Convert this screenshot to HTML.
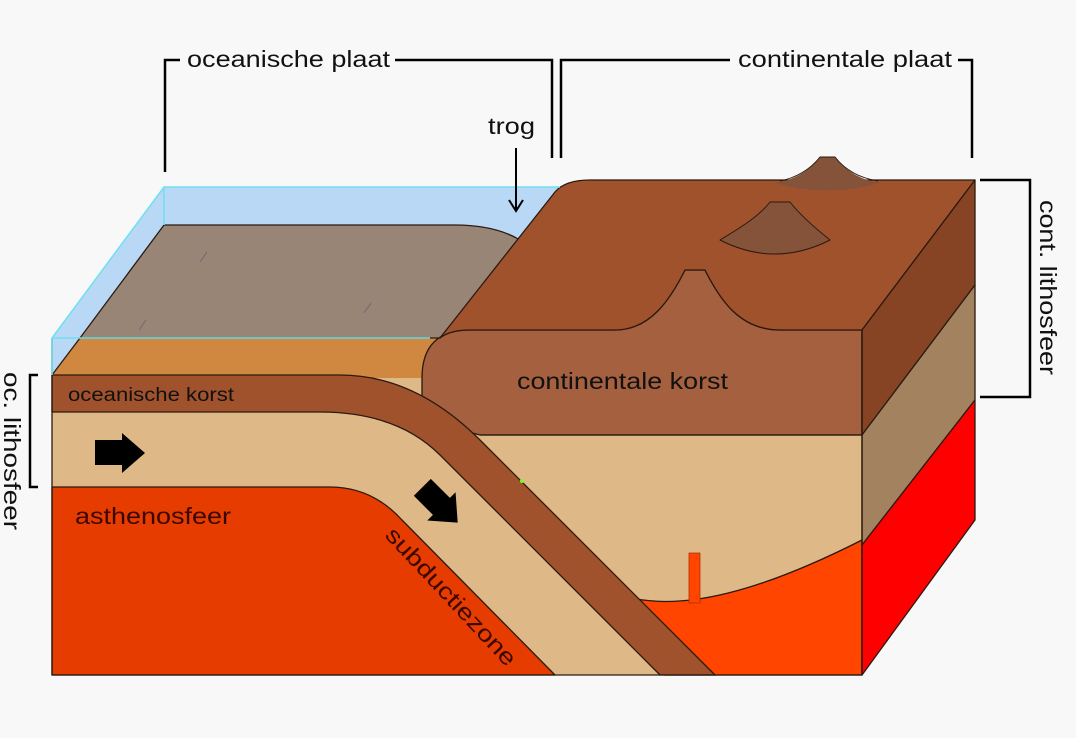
<!DOCTYPE html>
<html><head><meta charset="utf-8"><style>
html,body{margin:0;padding:0;background:#f8f8f8;}
svg{display:block;font-family:"Liberation Sans",sans-serif;}
</style></head><body>
<svg width="1076" height="738" viewBox="0 0 1076 738" xmlns="http://www.w3.org/2000/svg">
<rect width="1076" height="738" fill="#f8f8f8"/>
<g stroke="#2a1a10" stroke-width="1.3" stroke-linejoin="round">
<polygon points="164,187 560,187 440,338 52,338" fill="#b8d8f6" stroke="none"/>
<rect x="52" y="338" width="810" height="337" fill="#deb887" stroke="none"/>
<polygon points="52,338 445,338 445,378 52,378" fill="#d0873f" stroke="none"/>
<polygon points="52,338 80,338 52,375" fill="#b8d8f6" stroke="none"/>
<path d="M164,225 L455,225 Q495,225 520,240 L440,338 L80,338 Z" fill="#998575"/>
<line x1="80" y1="338" x2="52" y2="375"/>
<path d="M600,588 C650,610 720,612 862,540 L862,675 L665,675 Z" fill="#ff4500"/>
<rect x="689" y="553" width="11" height="50" fill="#ff4500" stroke="#b03000" stroke-width="0.8"/>
<path d="M52,487 L330,487 Q372,487 402,520 L555,675 L52,675 Z" fill="#e63c00"/>
<path d="M862,330 L780,330 C740,330 720,300 705,270 L685,270 C670,300 650,330 615,330 L470,330 Q422,330 422,378 L422,420 L480,435 L862,435 Z" fill="#a5603f"/>
<path d="M440,338 L555,192 Q565,180 590,180 L975,180 L862,330 L780,330 C740,330 720,300 705,270 L685,270 C670,300 650,330 615,330 L470,330 Q450,330 440,338 Z" fill="#a0522d"/>
<path d="M720,240 C745,225 760,215 770,202 L790,202 C800,215 815,228 830,240 Q775,268 720,240 Z" fill="#85533a" stroke-width="1"/>
<path d="M775,183 C795,180 810,170 820,157 L835,157 C845,170 860,180 880,183 Q828,198 775,183 Z" fill="#85533a" stroke="none"/>
<path d="M780,181 C795,178 810,170 820,157 L835,157 C845,170 860,178 878,181" fill="none" stroke-width="1"/>
<polygon points="862,330 975,180 975,285 862,435" fill="#874424"/>
<polygon points="862,435 975,285 975,400 862,545" fill="#a2825f"/>
<polygon points="862,545 975,400 975,520 862,675" fill="#ff0000"/>
<path d="M52,375 L340,375 Q415,375 480,440 L715,675 L660,675 L440,455 Q397,412 320,412 L52,412 Z" fill="#a0522d"/>
<polyline points="52,338 52,675 862,675 862,330" fill="none"/>
<line x1="480" y1="435" x2="862" y2="435"/>
</g>
<g stroke="#6ee0f0" stroke-width="1.5" fill="none">
<polyline points="52,338 164,187 560,187"/>
<line x1="164" y1="187" x2="164" y2="225"/>
<line x1="52" y1="338" x2="430" y2="338"/>
<line x1="52" y1="338" x2="52" y2="375"/>
</g>
<g stroke="#6a6a7a" stroke-width="1">
<line x1="200" y1="262" x2="207" y2="252"/><line x1="139" y1="330" x2="146" y2="320"/><line x1="364" y1="313" x2="371" y2="303"/>
</g>
<circle cx="522" cy="481" r="2" fill="#7f2"/>
<polygon points="95,440 122,440 122,433 145,453 122,473 122,465 95,465" fill="#000"/>
<g transform="translate(440,505) rotate(45)"><polygon points="-25,-12 2,-12 2,-20 25,0 2,20 2,12 -25,12" fill="#000"/></g>
<g stroke="#000" stroke-width="2.5" fill="none">
<polyline points="165,172 165,60 180,60"/><polyline points="395,60 552,60 552,158"/>
<polyline points="561,158 561,60 730,60"/><polyline points="958,60 972,60 972,158"/>
<polyline points="980,180 1030,180 1030,397 980,397"/>
<polyline points="38,375 30,375 30,487 38,487"/>
<line x1="516" y1="148" x2="516" y2="210" stroke-width="2"/>
<polyline points="509,200 516,211 523,200" stroke-width="2"/>
</g>
<g font-size="23" fill="#111">
<text x="187" y="67" textLength="203" lengthAdjust="spacingAndGlyphs">oceanische plaat</text>
<text x="738" y="67" textLength="214" lengthAdjust="spacingAndGlyphs">continentale plaat</text>
<text x="488" y="134" textLength="47" lengthAdjust="spacingAndGlyphs">trog</text>
<text x="517" y="389" textLength="211" lengthAdjust="spacingAndGlyphs">continentale korst</text>
<text x="68" y="401" font-size="19" textLength="166" lengthAdjust="spacingAndGlyphs">oceanische korst</text>
<text x="75" y="524" fill="#3a0800" textLength="156" lengthAdjust="spacingAndGlyphs">asthenosfeer</text>
<text transform="translate(384,536) rotate(47)" fill="#3a0800" textLength="180" lengthAdjust="spacingAndGlyphs">subductiezone</text>
<text transform="translate(1040,200) rotate(90)" textLength="175" lengthAdjust="spacingAndGlyphs">cont. lithosfeer</text>
<text transform="translate(4,372) rotate(90)" textLength="158" lengthAdjust="spacingAndGlyphs">oc. lithosfeer</text>
</g>
</svg>
</body></html>
